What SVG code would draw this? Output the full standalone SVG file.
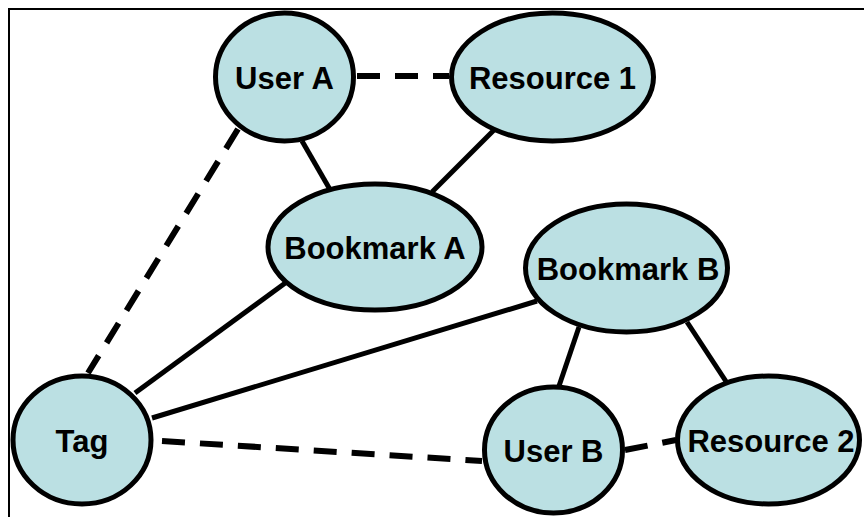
<svg xmlns="http://www.w3.org/2000/svg" width="864" height="517" viewBox="0 0 864 517">
<style>
.node ellipse{fill:#BBE0E3;stroke:#000;stroke-width:5}
.node text{font-family:"Liberation Sans",Arial,sans-serif;font-weight:bold;font-size:31px;fill:#000;text-anchor:middle}
.solid{stroke:#000;stroke-width:5;fill:none}
.dash{stroke:#000;stroke-width:6;fill:none;stroke-dasharray:23 15}
.frame{stroke:#000;stroke-width:2;fill:none}
</style>
<rect width="864" height="517" fill="#fff"/>
<path class="frame" d="M9 517 V9 H864"/>
<g id="connectors">
<line class="dash" x1="357" y1="76" x2="449" y2="76"/>
<line class="solid" x1="302" y1="141" x2="332" y2="193"/>
<line class="solid" x1="495" y1="129" x2="432" y2="192"/>
<line class="dash" x1="238" y1="129" x2="88" y2="373"/>
<line class="solid" x1="288" y1="281" x2="135" y2="393"/>
<line class="solid" x1="537" y1="301" x2="152" y2="418"/>
<line class="dash" x1="162" y1="441" x2="482" y2="461"/>
<line class="dash" x1="625" y1="450" x2="676" y2="440"/>
<line class="solid" x1="579" y1="327" x2="559" y2="386"/>
<line class="solid" x1="687" y1="322" x2="729" y2="386"/>
</g>
<g id="userA" class="node"><ellipse cx="284.5" cy="77" rx="69" ry="64"/><text x="284.5" y="89">User A</text></g>
<g id="resource1" class="node"><ellipse cx="552.5" cy="77" rx="101" ry="64"/><text x="552.5" y="89">Resource 1</text></g>
<g id="bookmarkA" class="node"><ellipse cx="375" cy="247" rx="107" ry="63"/><text x="375" y="259">Bookmark A</text></g>
<g id="bookmarkB" class="node"><ellipse cx="626.5" cy="268" rx="101" ry="64"/><text x="628" y="280">Bookmark B</text></g>
<g id="tag" class="node"><ellipse cx="82" cy="440" rx="69" ry="64"/><text x="82" y="452">Tag</text></g>
<g id="userB" class="node"><ellipse cx="553.5" cy="450" rx="69" ry="63"/><text x="553.5" y="462">User B</text></g>
<g id="resource2" class="node"><ellipse cx="768.5" cy="440" rx="91" ry="64"/><text x="771" y="452">Resource 2</text></g>
</svg>
